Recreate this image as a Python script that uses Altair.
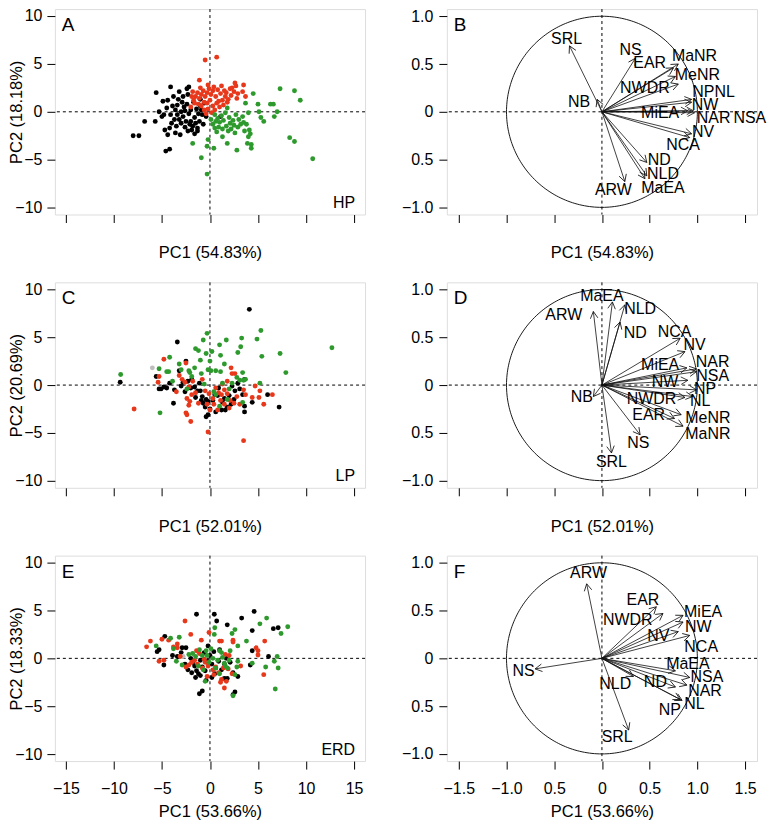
import altair as alt
import numpy as np
import pandas as pd

FONT = "Liberation Sans"
COL = {"black": "#000000", "red": "#E8381B", "green": "#2E9A2E", "grey": "#BDBDBD"}

# ---------------- Panel A (HP) scores ----------------
A_black_x = [-8.0,-7.4,-6.8,-5.6,-5.7,-4.6,-4.2,-4.1,-4.9,-4.4,-5.3,-5.0,-4.7,-4.4,-4.2,-3.1,-3.2,-2.4,-2.2,-2.8,-1.6,-1.3,1.1,
             -3.9,-3.6,-3.4,-3.2,-3.0,-2.8,-2.6,-2.4,-2.2,-2.0,-1.8,-1.6,-1.4,-1.2,-1.0,-0.8,-0.6,-2.9,-3.3,-3.7,-4.0,-3.5,
             -2.6,-2.3,-1.9,-1.5,-1.1,-0.7,-3.8,-4.5,-4.8,-2.7,-2.0,-1.7,-3.0,-2.5,-4.1,-3.4,-2.1,-1.3,-0.9,-0.4,-1.0,-2.3,-3.6]
A_black_y = [-2.5,-2.5,-1.0,2.0,-1.0,-4.1,-3.9,2.6,1.1,1.2,0.0,-0.5,-1.9,-2.4,-1.7,-2.4,2.1,2.4,2.6,1.6,-2.3,-1.7,-0.5,
             0.6,0.2,-0.3,-0.8,-1.2,-0.5,0.1,0.8,-0.2,-1.0,-1.5,-0.6,0.3,-0.2,0.6,-0.3,0.9,1.0,1.3,-0.8,-1.2,-1.5,
             -1.6,-2.0,-1.9,-1.2,-1.0,-1.3,1.6,0.4,-0.3,0.5,0.2,1.0,0.0,-1.0,-0.3,0.7,-1.3,-2.0,0.2,-0.5,1.3,1.8,-2.2]
A_red_x = [-0.5,0.7,-1.1,-2.0,3.7,3.4,3.5,1.0,-0.4,2.6,2.7,2.3,2.5,2.9,2.8,1.2,1.5,1.1,1.6,1.3,1.9,1.8,1.4,0.9,0.6,0.3,
           0.1,-0.1,-0.3,-0.5,-0.7,-0.9,-1.1,-1.3,-1.5,-1.7,-1.9,-1.6,-1.2,-0.9,-0.6,-0.3,0.0,0.3,0.5,0.2,-0.2,-1.0,
           -0.2,0.4,0.8,1.7,2.1,-1.8,-0.6,2.2,0.7]
A_red_y = [5.4,5.7,3.3,0.5,1.6,2.1,2.8,0.5,-0.2,3.0,2.7,2.5,2.1,1.9,1.4,2.7,2.2,1.9,1.6,1.2,1.3,1.0,0.7,1.1,1.6,2.2,
           1.8,2.4,2.0,1.6,2.2,1.8,1.4,2.0,1.6,1.2,1.6,0.9,0.8,0.6,1.0,0.9,1.2,0.6,0.2,-0.1,0.3,2.5,
           2.8,2.6,2.3,2.0,2.4,2.1,0.2,1.7,0.9]
A_green_x = [-1.8,-0.9,-0.3,-0.3,-0.2,0.4,1.8,2.8,3.9,4.3,4.2,7.3,8.8,9.4,8.3,8.8,10.7,4.5,7.0,6.7,6.3,6.6,5.0,5.1,5.3,
             5.6,3.7,4.0,3.5,0.5,0.8,1.2,1.6,1.8,2.0,2.4,2.7,3.0,3.2,2.9,2.5,2.1,1.7,1.3,0.9,0.5,0.3,0.6,1.0,1.4,2.2,
             3.4,3.8,4.1,4.0,4.3,1.9,0.7,3.6,2.6,1.3,0.1]
A_green_y = [-3.3,-4.8,-6.5,-3.6,-2.9,-3.8,-3.3,-4.0,-3.3,-3.8,-2.3,2.4,2.2,1.2,-2.7,-3.1,-4.9,1.9,0.0,-0.5,0.8,0.8,0.8,0.0,-0.6,
             -1.0,0.9,-0.1,-1.1,-0.3,-0.7,-0.4,-0.1,0.4,-0.6,-0.9,-0.3,-0.8,-1.3,-1.6,-1.4,-1.2,-1.5,-1.8,-1.6,-1.7,-1.3,-1.0,-1.1,-0.9,-1.8,
             -0.5,-1.3,-1.9,-2.6,-3.4,-2.0,-2.1,-2.0,-2.2,-2.6,-0.8]

# ---------------- Panel C (LP) scores ----------------
C_black_x = [-9.35,4.1,-3.4,-2.5,-5.6,-5.1,-3.8,7.2,6.0,3.6,3.6,4.4,-0.4,-0.2,-3.2,-4.2,-4.5,-3.7,-1.9,-1.3,-0.8,-0.4,-0.2,
             0.5,0.8,1.5,1.8,2.2,2.5,2.9,3.6,2.3,-2.8,-2.3,-2.0,-1.6,-1.0,-0.7,-0.5,0.0,0.3,1.2,1.6,2.0,2.6,3.1,-1.1,
             -3.0,-2.6,-0.9,0.9,1.3,3.4,-1.5,-4.8,-5.3,0.6]
C_black_y = [0.3,7.9,4.5,2.5,0.9,-0.4,-1.9,-2.3,-1.0,-2.8,-2.2,-1.8,-3.3,-3.1,1.5,0.2,-0.3,-0.5,0.6,-0.6,-1.2,-1.5,-1.7,
             -1.0,-1.1,-1.4,-2.3,-2.0,-1.5,0.2,0.6,-0.1,0.3,0.4,-0.3,-0.2,-0.6,-1.9,-2.3,-2.5,-1.6,-2.6,-2.6,-1.1,-0.6,-0.4,0.2,
             -0.1,-0.7,-1.6,-0.3,-1.8,-1.0,-1.3,-0.2,-0.4,-2.8]
C_grey_x = [-6.0]
C_grey_y = [1.8]
C_red_x = [-7.9,-4.8,-5.3,-5.4,-2.5,-2.0,-0.2,3.5,2.2,2.6,2.3,3.5,3.7,4.4,5.2,5.6,6.5,5.1,-3.2,-2.9,-2.6,-2.2,-1.8,-1.5,
           -2.4,-2.2,-2.1,-1.9,-2.5,-2.4,-0.8,-0.5,-0.1,0.3,0.6,0.9,1.2,1.5,1.8,2.1,2.5,2.0,1.5,1.1,0.4,0.0,-0.3,1.8,
           1.3,2.8,3.1,0.8,-1.2,-3.5,4.7]
C_red_y = [-2.5,2.7,0.9,0.3,2.3,-3.8,-4.9,-5.8,1.8,1.2,1.2,-0.5,-1.0,-1.3,-0.6,-2.0,-1.0,-1.3,1.0,0.6,0.3,-0.2,0.4,-0.8,
           -1.4,-2.1,-1.7,-1.0,-2.9,-3.1,0.6,-0.6,-0.9,-1.4,-0.3,-0.8,-1.0,-0.5,-0.9,-1.6,-1.9,-2.4,-2.0,-1.6,-2.0,-2.6,-2.0,0.4,
           0.1,-1.2,-2.0,-2.6,-1.9,-0.7,-0.1]
C_green_x = [-9.3,-5.2,12.7,-0.3,-0.7,-1.5,-1.2,-0.4,0.2,1.0,1.7,1.1,0.0,2.9,3.3,3.2,4.9,5.3,5.4,7.3,7.9,5.2,-4.2,-5.3,
             -4.5,-4.3,-3.2,-2.2,-2.1,-1.6,-0.9,-0.2,0.1,0.6,1.1,3.4,3.7,3.5,2.3,3.4,1.0,1.8,-3.9,0.6,-3.0,-1.9,-0.6,
             1.3,2.8,3.1,2.0,0.4,-2.4,1.5,-1.0]
C_green_y = [1.1,-2.9,3.9,5.4,4.7,3.8,3.6,3.3,3.5,4.2,4.7,3.1,2.5,3.4,4.9,4.0,4.8,5.7,3.0,3.3,1.3,0.2,2.9,1.7,
             1.4,1.4,2.2,1.5,1.3,1.8,1.2,1.6,1.5,1.5,1.4,1.3,0.6,0.5,0.2,-1.8,-2.2,-1.5,0.4,-1.0,1.6,0.9,0.1,
             0.2,0.8,0.5,-0.4,-0.7,-0.4,2.2,2.6]

# ---------------- Panel E (ERD) scores ----------------
E_black_x = [-1.4,0.45,0.7,1.8,3.3,4.6,4.4,6.6,7.1,6.1,4.4,4.2,-4.7,-5.3,-5.5,-4.8,-3.9,-2.9,-2.5,-1.1,-0.8,1.5,1.8,2.4,
             2.9,2.4,2.6,-2.0,-1.8,-1.6,-1.4,-1.2,-1.0,-0.8,-0.5,-0.3,0.0,0.2,0.4,0.6,0.9,1.2,1.5,1.7,2.1,-2.3,-2.6,
             -1.9,-1.5,-1.0,-0.4,0.2,0.5,-3.4,-3.0,-0.6,1.0,-0.2]
E_black_y = [4.6,4.6,3.9,3.5,4.2,4.9,2.9,3.1,3.2,0.2,0.8,-0.7,2.3,0.9,0.7,-0.7,0.3,1.1,1.1,-3.7,-3.4,-2.1,-2.1,-1.5,
             -1.9,-3.8,-3.5,0.0,-0.4,-0.8,-1.3,-1.6,-0.2,-0.9,-1.3,-0.3,0.3,-0.6,0.7,-1.0,-0.3,-1.2,-0.6,0.0,-0.4,-1.2,-0.6,
             -1.5,-2.0,-1.8,-2.3,-2.0,-1.6,0.2,0.6,0.6,0.9,1.3]
E_grey_x = [-2.8]
E_grey_y = [0.2]
E_red_x = [-6.6,-6.2,-5.0,-5.3,-4.8,-4.3,-3.8,-3.4,-3.4,-2.6,-2.0,-0.1,-0.9,1.0,1.2,2.4,2.4,5.7,4.8,5.0,5.0,5.6,3.2,1.5,
           1.7,1.2,-2.2,-1.9,-1.6,-1.3,-1.1,-0.8,-0.5,-0.2,0.3,0.6,0.9,1.1,1.4,1.9,1.6,2.0,-2.5,-1.4,-0.6,2.3,-3.1,
           -0.3,0.4]
E_red_y = [1.2,1.8,2.0,-0.3,-0.2,1.9,1.2,1.5,1.1,3.9,2.5,2.7,1.9,1.8,1.8,1.9,1.7,1.8,1.1,0.8,0.35,-1.7,-0.8,-3.1,
           -2.4,-2.2,-0.7,-0.4,-0.2,-0.6,0.5,-1.0,-0.4,-0.8,-1.2,-0.9,-1.5,-2.5,-1.0,-1.1,0.4,0.3,-0.9,0.8,-0.1,-1.6,0.2,
           -1.9,-1.7]
E_green_x = [-5.6,-4.1,-3.2,-3.8,-3.5,-2.9,0.5,0.45,2.6,2.3,2.1,2.9,3.8,5.2,5.9,7.4,8.1,7.0,6.7,7.1,5.8,6.8,2.4,-0.5,
             1.0,1.2,1.6,1.8,2.8,2.9,2.6,-1.8,-1.5,-1.1,-0.8,-0.4,0.1,-0.1,0.3,0.8,1.3,1.5,2.0,-1.2,-0.7,0.6,1.0,
             4.4,-2.2,-0.3]
E_green_y = [1.3,2.1,2.2,1.0,-0.3,-0.7,3.2,2.5,3.0,2.6,0.8,1.3,1.8,3.6,4.2,2.6,3.3,0.2,-0.3,-1.0,-0.9,-3.2,-3.9,-2.4,
             0.8,0.6,-0.8,-1.0,-0.9,-0.3,-1.7,0.5,0.2,0.9,0.3,0.8,1.0,-0.4,0.0,-0.2,0.1,-0.5,-0.2,-0.8,-1.2,-1.0,-1.6,
             -0.5,0.4,0.3]

# ---------------- Loadings (biplots) ----------------
B_names = ["SRL","NS","EAR","MaNR","MeNR","NWDR","NPNL","NW","MiEA","NAR","NSA","NV","NCA","ND","NLD","MaEA","ARW","NB"]
B_tip_x = [-0.34,0.35,0.75,0.80,0.77,0.80,0.94,0.94,0.90,0.97,0.96,0.94,0.92,0.47,0.47,0.45,0.24,-0.05]
B_tip_y = [0.69,0.56,0.46,0.50,0.37,0.29,0.13,0.10,0.01,-0.01,0.01,-0.23,-0.27,-0.53,-0.67,-0.70,-0.73,0.13]
B_lab_x = [-0.37,0.30,0.50,0.97,1.00,0.45,1.17,1.08,0.61,1.17,1.55,1.06,0.85,0.60,0.64,0.64,0.12,-0.24]
B_lab_y = [0.76,0.65,0.51,0.58,0.39,0.25,0.21,0.07,-0.01,-0.07,-0.07,-0.21,-0.35,-0.50,-0.65,-0.80,-0.82,0.10]

D_names = ["ARW","MaEA","NLD","ND","NCA","NV","MiEA","NAR","NSA","NW","NP","NL","NWDR","EAR","MeNR","MaNR","NS","SRL","NB"]
D_tip_x = [-0.09,0.11,0.24,0.19,0.82,0.87,0.89,0.99,0.99,0.90,0.99,0.95,0.87,0.76,0.83,0.85,0.40,0.10,-0.09]
D_tip_y = [0.77,0.87,0.84,0.66,0.49,0.35,0.18,0.17,0.14,0.05,-0.05,-0.12,-0.13,-0.35,-0.31,-0.43,-0.52,-0.71,-0.12]
D_lab_x = [-0.40,0.00,0.40,0.35,0.76,0.97,0.61,1.16,1.16,0.66,1.08,1.03,0.52,0.49,1.11,1.11,0.38,0.10,-0.21]
D_lab_y = [0.73,0.93,0.80,0.54,0.56,0.42,0.21,0.24,0.10,0.03,-0.04,-0.17,-0.15,-0.31,-0.34,-0.51,-0.61,-0.81,-0.13]

F_names = ["ARW","EAR","NWDR","MiEA","NW","NV","NCA","MaEA","NSA","NAR","ND","NL","NP","NLD","SRL","NS"]
F_tip_x = [-0.16,0.57,0.64,0.85,0.85,0.80,0.92,0.77,0.92,0.89,0.77,0.84,0.82,0.33,0.28,-0.70]
F_tip_y = [0.78,0.54,0.47,0.45,0.38,0.28,0.24,-0.13,-0.20,-0.28,-0.30,-0.44,-0.43,-0.19,-0.75,-0.11]
F_lab_x = [-0.14,0.43,0.27,1.06,1.01,0.59,1.04,0.90,1.10,1.08,0.56,0.97,0.71,0.14,0.16,-0.82]
F_lab_y = [0.89,0.61,0.40,0.49,0.33,0.23,0.12,-0.06,-0.20,-0.34,-0.25,-0.48,-0.54,-0.27,-0.82,-0.13]

# ---------------- Text ----------------
letters = ["A", "B", "C", "D", "E", "F"]
tags = ["HP", "LP", "ERD"]
pc1_titles = ["PC1 (54.83%)", "PC1 (52.01%)", "PC1 (53.66%)"]
pc2_titles = ["PC2 (18.18%)", "PC2 (20.69%)", "PC2 (18.33%)"]
score_ticks = [-15, -10, -5, 0, 5, 10, 15]
score_yticks = [-10, -5, 0, 5, 10]
load_xticks = [-1.5, -1.0, -0.5, 0, 0.5, 1.0, 1.5]
load_yticks = [-1.0, -0.5, 0, 0.5, 1.0]

W, H = 311, 206
AX = dict(tickSize=8, tickColor="black", tickWidth=1, domain=False, grid=False,
          labelFont=FONT, labelFontSize=16, labelColor="black",
          titleFont=FONT, titleFontSize=16.5, titleFontWeight="normal", titleColor="black")
LOAD_EXPR = "datum.value == 0 ? '0' : (datum.value == -0.5 ? '0.5' : format(datum.value, '.1f'))"


def score_enc(field_x, field_y, row):
    last = row == 2
    xa = alt.Axis(values=score_ticks, format="d", labels=last, title=pc1_titles[row],
                  labelPadding=11, titlePadding=8 if last else 22, **AX)
    ya = alt.Axis(values=score_yticks, format="d", title=pc2_titles[row],
                  labelPadding=5, titlePadding=-10, **AX)
    x = alt.X(field_x, type="quantitative", scale=alt.Scale(domain=[-16.15, 16.15], nice=False, zero=False), axis=xa)
    y = alt.Y(field_y, type="quantitative", scale=alt.Scale(domain=[-10.72, 10.72], nice=False, zero=False), axis=ya)
    return x, y


def load_enc(field_x, field_y, row):
    last = row == 2
    if last:
        xa = alt.Axis(values=load_xticks, labelExpr=LOAD_EXPR, labels=True, title=pc1_titles[row],
                      labelPadding=11, titlePadding=8, **AX)
    else:
        xa = alt.Axis(values=load_xticks, labels=False, title=pc1_titles[row], titlePadding=22, **AX)
    ya = alt.Axis(values=load_yticks, labelExpr=LOAD_EXPR, title=None, labelPadding=6, **AX)
    x = alt.X(field_x, type="quantitative", scale=alt.Scale(domain=[-1.625, 1.625], nice=False, zero=False), axis=xa)
    y = alt.Y(field_y, type="quantitative", scale=alt.Scale(domain=[-1.075, 1.075], nice=False, zero=False), axis=ya)
    return x, y


def corner_text(letter, tag):
    layers = [alt.Chart(pd.DataFrame({"t": [letter]})).mark_text(
        font=FONT, fontSize=19, align="left", baseline="alphabetic", color="black"
    ).encode(x=alt.value(7), y=alt.value(22), text="t:N")]
    if tag:
        layers.append(alt.Chart(pd.DataFrame({"t": [tag]})).mark_text(
            font=FONT, fontSize=16, align="right", baseline="alphabetic", color="black"
        ).encode(x=alt.value(W - 10), y=alt.value(H - 6.5), text="t:N"))
    return layers


def ref_lines(encf, row):
    vx = pd.DataFrame({"x": [0.0], "y": [0.0]})
    x, y = encf("x", "y", row)
    v = alt.Chart(vx).mark_rule(color="black", strokeWidth=1, strokeDash=[3, 3]).encode(x=x)
    h = alt.Chart(vx).mark_rule(color="black", strokeWidth=1, strokeDash=[3, 3]).encode(y=y)
    return [v, h]


def scatter_panel(groups, row):
    recs = []
    for g, xs, ys in groups:
        recs += [{"x": a, "y": b, "g": g} for a, b in zip(xs, ys)]
    df = pd.DataFrame(recs)
    x, y = score_enc("x", "y", row)
    pts = alt.Chart(df).mark_circle(size=24, opacity=1).encode(
        x=x, y=y,
        color=alt.Color("g:N", scale=alt.Scale(domain=list(COL.keys()), range=list(COL.values())), legend=None),
    )
    layers = ref_lines(score_enc, row) + [pts] + corner_text(letters[2 * row], tags[row])
    return alt.layer(*layers).properties(width=W, height=H)


def biplot_panel(names, tx, ty, lx, ly, row):
    tx = np.array(tx, dtype=float)
    ty = np.array(ty, dtype=float)
    ang = (np.degrees(np.arctan2(tx, ty)) + 360.0) % 360.0
    arr = pd.DataFrame({"ox": 0.0, "oy": 0.0, "x": tx, "y": ty, "ang": ang})
    lab = pd.DataFrame({"x": lx, "y": ly, "name": names})
    th = np.linspace(0, 2 * np.pi, 241)
    circ = pd.DataFrame({"x": np.cos(th), "y": np.sin(th), "i": np.arange(241)})

    x0, y0 = load_enc("ox", "oy", row)
    x, y = load_enc("x", "y", row)
    circle = alt.Chart(circ).mark_line(color="black", strokeWidth=0.9).encode(x=x, y=y, order="i:Q")
    shafts = alt.Chart(arr).mark_rule(color="#111111", strokeWidth=0.8).encode(
        x=x0, y=y0, x2=alt.X2("x"), y2=alt.Y2("y"))
    heads = alt.Chart(arr).mark_point(
        shape="M -0.55 1 L 0 0 L 0.55 1", filled=False, size=190, strokeWidth=0.8,
        color="#111111", opacity=1
    ).encode(x=x, y=y, angle=alt.Angle("ang:Q", scale=None))
    labels = alt.Chart(lab).mark_text(font=FONT, fontSize=16, color="black",
                                      align="center", baseline="middle").encode(x=x, y=y, text="name:N")
    layers = ref_lines(load_enc, row) + [circle, shafts, heads, labels] + corner_text(letters[2 * row + 1], None)
    return alt.layer(*layers).properties(width=W, height=H)


A = scatter_panel([("black", A_black_x, A_black_y), ("red", A_red_x, A_red_y), ("green", A_green_x, A_green_y)], 0)
C = scatter_panel([("black", C_black_x, C_black_y), ("grey", C_grey_x, C_grey_y), ("red", C_red_x, C_red_y),
                   ("green", C_green_x, C_green_y)], 1)
E = scatter_panel([("black", E_black_x, E_black_y), ("grey", E_grey_x, E_grey_y), ("red", E_red_x, E_red_y),
                   ("green", E_green_x, E_green_y)], 2)
B = biplot_panel(B_names, B_tip_x, B_tip_y, B_lab_x, B_lab_y, 0)
D = biplot_panel(D_names, D_tip_x, D_tip_y, D_lab_x, D_lab_y, 1)
F = biplot_panel(F_names, F_tip_x, F_tip_y, F_lab_x, F_lab_y, 2)

chart = alt.concat(A, B, C, D, E, F, columns=2,
                   spacing=alt.RowColnumber(row=68, column=82), bounds="flush").properties(
    padding={"left": 0, "top": -2, "right": 0, "bottom": 0}
).configure_view(stroke="black", strokeWidth=1).configure(background="white")

chart.save("out.html", embed_options={"renderer": "svg", "actions": False})
